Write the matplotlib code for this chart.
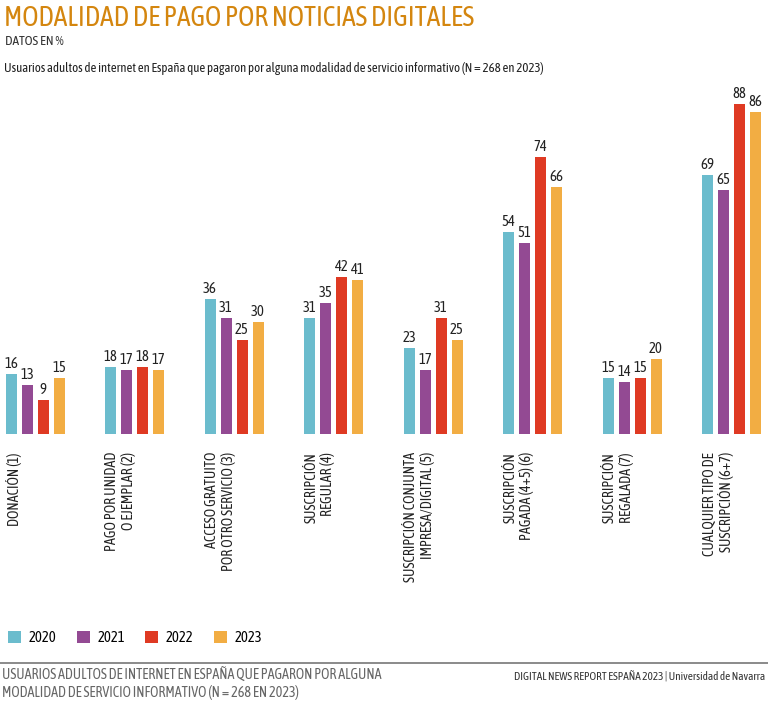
import numpy as np
import matplotlib.pyplot as plt
from matplotlib.lines import Line2D

# datos del gráfico
categorias = ["DONACIÓN (1)",
              "PAGO POR UNIDAD\nO EJEMPLAR (2)",
              "ACCESO GRATUITO\nPOR OTRO SERVICIO (3)",
              "SUSCRIPCIÓN\nREGULAR (4)",
              "SUSCRIPCIÓN CONJUNTA\nIMPRESA/DIGITAL (5)",
              "SUSCRIPCIÓN\nPAGADA (4+5) (6)",
              "SUSCRIPCIÓN\nREGALADA (7)",
              "CUALQUIER TIPO DE\nSUSCRIPCIÓN (6+7)"]
anios = ["2020", "2021", "2022", "2023"]
v2020 = [16, 18, 36, 31, 23, 54, 15, 69]
v2021 = [13, 17, 31, 35, 17, 51, 14, 65]
v2022 = [9, 18, 25, 42, 31, 74, 15, 88]
v2023 = [15, 17, 30, 41, 25, 66, 20, 86]
colores = ["#6bbccd", "#934a93", "#df3a23", "#f2ad43"]

plt.rcParams['font.family'] = ['Asap Condensed', 'DejaVu Sans']

W, H = 768, 706
fig = plt.figure(figsize=(W / 100, H / 100), dpi=100)

# eje: linea base en y=434 px, 3.75 px por unidad
base = 434
ymax = 95
ax = fig.add_axes([0, (H - base) / H, 1, ymax * 3.75 / H])
paso = 99.5
ax.set_xlim(-35 / paso, (W - 35) / paso)
ax.set_ylim(0, ymax)
ax.axis('off')

x = np.arange(len(categorias))
sep = 16 / paso
ancho = 11 / paso
series = [v2020, v2021, v2022, v2023]
for k, (vals, col, an) in enumerate(zip(series, colores, anios)):
    b = ax.bar(x + (k - 1.5) * sep, vals, ancho, color=col, label=an)
    ax.bar_label(b, padding=2, fontsize=10.5, color="#222222")

# etiquetas de categoria, giradas
for i, cat in enumerate(categorias):
    xl = (35 + i * paso - 29) / W
    fig.text(xl, 1 - 452 / H, cat, rotation=90, ha='left', va='top',
             multialignment='right', fontsize=10.3, color="#222222",
             linespacing=1.15)

# titulos
fig.text(4 / W, 1 - 5 / H, "MODALIDAD DE PAGO POR NOTICIAS DIGITALES",
         fontsize=19.8, color="#d4860f", ha='left', va='top')
fig.text(5 / W, 1 - 35 / H, "DATOS EN %", fontsize=9.6, color="#333333",
         ha='left', va='top')
fig.text(4 / W, 1 - 62 / H,
         "Usuarios adultos de internet en España que pagaron por alguna modalidad de servicio informativo (N = 268 en 2023)",
         fontsize=9.3, color="#222222", ha='left', va='top')

# leyenda
fig.legend(loc='center left', bbox_to_anchor=(0.005, 1 - 638 / H), ncol=4,
           frameon=False, fontsize=10.5, handlelength=0.9, handleheight=0.9,
           handletextpad=0.5, columnspacing=1.4, borderaxespad=0,
           borderpad=0.3)

# pie
fig.add_artist(Line2D([0, 1], [1 - 663 / H, 1 - 663 / H], color="#777777", lw=1.2))
fig.text(2 / W, 1 - 668 / H,
         "USUARIOS ADULTOS DE INTERNET EN ESPAÑA QUE PAGARON POR ALGUNA\nMODALIDAD DE SERVICIO INFORMATIVO (N = 268 EN 2023)",
         fontsize=10.2, color="#666666", ha='left', va='top', linespacing=1.2)
fig.text(765 / W, 1 - 677 / H,
         "DIGITAL NEWS REPORT ESPAÑA 2023 | Universidad de Navarra",
         fontsize=8.1, color="#333333", ha='right', va='center')

fig.savefig("out.png", dpi=100)
